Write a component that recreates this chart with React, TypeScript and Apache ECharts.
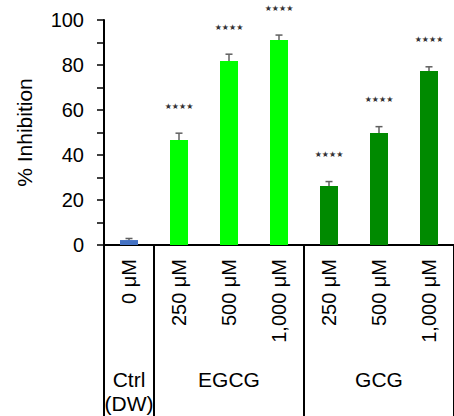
import React, { useEffect, useRef } from "react";
import * as echarts from "echarts";

const categories = ["0 μM", "250 μM", "500 μM", "1,000 μM", "250 μM", "500 μM", "1,000 μM"];
const values = [2.2, 46.7, 81.8, 91.1, 26.2, 49.8, 77.3];
const errors = [0.7, 3.0, 3.0, 2.2, 2.0, 2.8, 1.9];
const significance = ["", "★★★★", "★★★★", "★★★★", "★★★★", "★★★★", "★★★★"];
const barGroup = [0, 1, 1, 1, 2, 2, 2];
const groupNames = ["Ctrl\n(DW)", "EGCG", "GCG"];
const groupStart = [0, 1, 4];
const groupEnd = [0, 3, 6];
const groupColors = ["#4472C4", "#00FF00", "#008A00"];
const yTicks = [0, 20, 40, 60, 80, 100];

const FONT = "'Liberation Sans', Arial, sans-serif";

export default function App() {
  const ref = useRef<HTMLDivElement>(null);
  useEffect(() => {
    if (!ref.current) return;
    const chart = echarts.init(ref.current, null, { renderer: "svg" });
    const option: any = {
      animation: false,
      grid: { left: 104, right: -8, top: 20, bottom: 171, containLabel: false },
      xAxis: {
        type: "category",
        data: categories,
        axisLine: { lineStyle: { color: "#000", width: 2 } },
        axisTick: { show: false },
        axisLabel: {
          rotate: 90,
          margin: 14,
          fontSize: 20,
          color: "#000",
          fontFamily: FONT,
          interval: 0,
        },
      },
      yAxis: {
        type: "value",
        min: yTicks[0],
        max: yTicks[yTicks.length - 1],
        interval: 20,
        name: "% Inhibition",
        nameLocation: "middle",
        nameGap: 69,
        nameTextStyle: { fontSize: 21, color: "#000", fontFamily: FONT },
        axisLine: { show: true, lineStyle: { color: "#000", width: 2 } },
        axisTick: { show: true, length: 7, lineStyle: { color: "#000", width: 1.5 } },
        minorTick: { show: true, splitNumber: 2, length: 7, lineStyle: { color: "#000", width: 1.5 } },
        splitLine: { show: false },
        axisLabel: { fontSize: 20, color: "#000", fontFamily: FONT, margin: 20 },
      },
      series: [
        {
          type: "bar",
          barWidth: 18,
          data: values.map((v, i) => ({ value: v, itemStyle: { color: groupColors[barGroup[i]] } })),
        },
        {
          type: "custom",
          clip: false,
          encode: { x: 0, y: [1, 2] },
          data: values.map((v, i) => [i, v - errors[i], v + errors[i]]),
          renderItem: (params: any, api: any) => {
            const idx = api.value(0);
            const lo = api.coord([idx, api.value(1)]);
            const hi = api.coord([idx, api.value(2)]);
            const x = lo[0];
            const cw = 3.5;
            const children: any[] = [
              { type: "line", shape: { x1: x, y1: lo[1], x2: x, y2: hi[1] }, style: { stroke: "#606060", lineWidth: 1.5 } },
              { type: "line", shape: { x1: x - cw, y1: lo[1], x2: x + cw, y2: lo[1] }, style: { stroke: "#606060", lineWidth: 1.5 } },
              { type: "line", shape: { x1: x - cw, y1: hi[1], x2: x + cw, y2: hi[1] }, style: { stroke: "#606060", lineWidth: 1.5 } },
            ];
            const sig = significance[params.dataIndex];
            if (sig) {
              children.push({
                type: "text",
                style: {
                  text: sig,
                  x: x,
                  y: hi[1] - 27,
                  align: "center",
                  verticalAlign: "middle",
                  fontSize: 8,
                  fontFamily: "'DejaVu Sans', sans-serif",
                  fill: "#333",
                },
              });
            }
            return { type: "group", children };
          },
        },
        {
          type: "custom",
          clip: false,
          silent: true,
          encode: { x: [0, 1], y: 2 },
          data: groupNames.map((_, g) => [groupStart[g], groupEnd[g], 0]),
          renderItem: (params: any, api: any) => {
            const bw = api.size([1, 0])[0];
            const p0 = api.coord([api.value(0), 0]);
            const p1 = api.coord([api.value(1), 0]);
            const xl = p0[0] - bw / 2;
            const xr = p1[0] + bw / 2;
            const y0 = p0[1];
            return {
              type: "group",
              children: [
                { type: "line", shape: { x1: xl, y1: y0, x2: xl, y2: y0 + 200 }, style: { stroke: "#000", lineWidth: 2 } },
                { type: "line", shape: { x1: xr, y1: y0, x2: xr, y2: y0 + 200 }, style: { stroke: "#000", lineWidth: 2 } },
                {
                  type: "text",
                  style: {
                    text: groupNames[params.dataIndex],
                    x: (xl + xr) / 2,
                    y: y0 + 122,
                    align: "center",
                    verticalAlign: "top",
                    fontSize: 21,
                    lineHeight: 24,
                    fontFamily: FONT,
                    fill: "#000",
                  },
                },
              ],
            };
          },
        },
      ],
    };
    chart.setOption(option);
    return () => chart.dispose();
  }, []);
  return (
    <div
      ref={ref}
      style={{ position: "fixed", left: 0, top: 0, width: 454, height: 416, background: "#fff" }}
    />
  );
}
